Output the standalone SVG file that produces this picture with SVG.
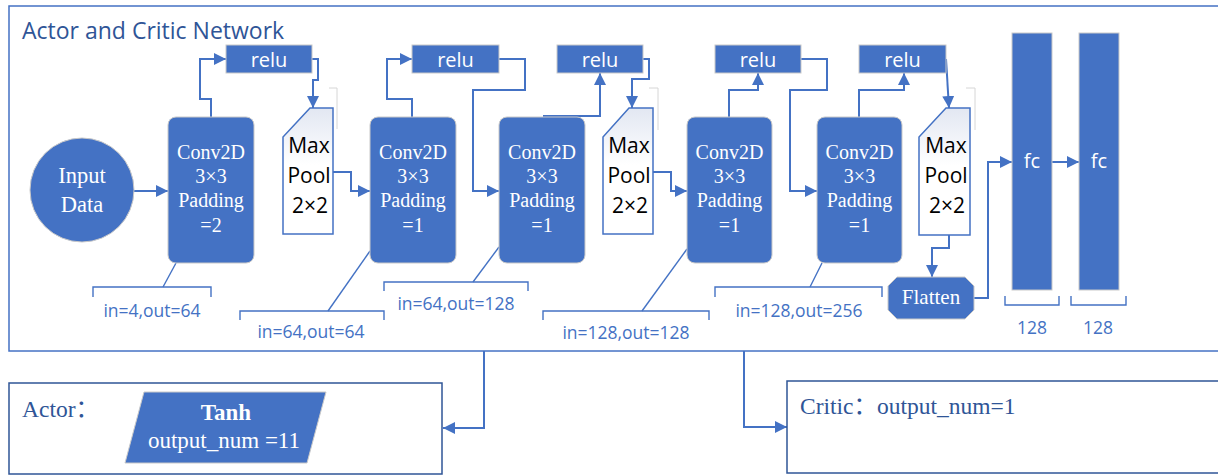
<svg xmlns="http://www.w3.org/2000/svg" width="1218" height="475" viewBox="0 0 1218 475">
<style>
.blk{fill:#4472C4;stroke:#C9C9C9;stroke-width:1}
.con{fill:none;stroke:#4472C4;stroke-width:2}
.thin{fill:none;stroke:#4472C4;stroke-width:1.4}
.ghost{fill:none;stroke:#D6D6D6;stroke-width:1}
.pool{fill:url(#pg);stroke:#4472C4;stroke-width:1.5}
.serifW{font-family:"Liberation Serif","Times New Roman",serif;fill:#FFFFFF;text-anchor:middle}
.sansW{font-family:"Open Sans","Noto Sans",sans-serif;fill:#FFFFFF;text-anchor:middle}
.sansK{font-family:"Open Sans","Noto Sans",sans-serif;fill:#000000;text-anchor:middle;font-size:21px}
.lbl{font-family:"Open Sans","Noto Sans",sans-serif;fill:#4472C4;text-anchor:middle;font-size:17.5px}
.dark{font-family:"Liberation Serif","Noto Sans CJK SC",serif;fill:#2F5597;font-size:23.5px}
</style>
<defs>
<linearGradient id="pg" x1="0" y1="0" x2="0" y2="1">
<stop offset="0" stop-color="#E2E7F2"/>
<stop offset="0.45" stop-color="#FFFFFF"/>
<stop offset="1" stop-color="#FFFFFF"/>
</linearGradient>
<marker id="arr" viewBox="0 0 10 10" refX="10" refY="5" markerWidth="12" markerHeight="12" markerUnits="userSpaceOnUse" orient="auto">
<path d="M0,0 L10,5 L0,10 z" fill="#4472C4"/>
</marker>
</defs>
<rect width="1218" height="475" fill="#FFFFFF"/>

<g id="outer">
<rect x="9" y="6" width="1215" height="345" fill="none" stroke="#4472C4" stroke-width="1.5"/>
<text x="22" y="39" font-family="Open Sans, Noto Sans, sans-serif" font-size="23" fill="#2F5597">Actor and Critic Network</text>
</g>

<g id="connectors">
<line class="con" x1="133" y1="191" x2="168" y2="191" marker-end="url(#arr)"/>
<path class="con" d="M211,117 V99 H200 V59 H226" marker-end="url(#arr)"/>
<path class="con" d="M312,59 H318 V80 H313 V108" marker-end="url(#arr)"/>
<path class="con" d="M333,172 H351 V191 H370" marker-end="url(#arr)"/>
<path class="con" d="M412,117 V99 H387 V59 H412" marker-end="url(#arr)"/>
<path class="con" d="M499,59 H525 V90 H473 V191 H499" marker-end="url(#arr)"/>
<path class="con" d="M543,116 H600 V73" marker-end="url(#arr)"/>
<path class="con" d="M643,59 H649 V79 H632 V108" marker-end="url(#arr)"/>
<path class="con" d="M653,172 H671 V191 H687" marker-end="url(#arr)"/>
<path class="con" d="M729,117 V90 H758 V73" marker-end="url(#arr)"/>
<path class="con" d="M801,59 H827 V90 H790 V191 H817" marker-end="url(#arr)"/>
<path class="con" d="M859,117 V90 H904 V73" marker-end="url(#arr)"/>
<path class="con" d="M946,59 L949,108" marker-end="url(#arr)"/>
<path class="con" d="M949,235 V248 H932 V277" marker-end="url(#arr)"/>
<path class="con" d="M974,298 H988 V162 H1012" marker-end="url(#arr)"/>
<line class="con" x1="1052" y1="162" x2="1079" y2="162" marker-end="url(#arr)"/>
<path class="con" d="M484,351 V428 H443" marker-end="url(#arr)"/>
<path class="con" d="M744,351 V427 H787" marker-end="url(#arr)"/>
<path class="thin" d="M93,297 V287 H211 V297"/>
<line class="thin" x1="176" y1="263" x2="163" y2="287"/>
<path class="thin" d="M240,320 V311 H384 V320"/>
<line class="thin" x1="370" y1="251" x2="328" y2="311"/>
<path class="thin" d="M384,291 V282 H528 V291"/>
<line class="thin" x1="499" y1="247" x2="473" y2="282"/>
<path class="thin" d="M543,320 V311 H709 V320"/>
<line class="thin" x1="687" y1="249" x2="642" y2="311"/>
<path class="thin" d="M715,297 V287 H882 V297"/>
<line class="thin" x1="822" y1="263" x2="810" y2="287"/>
<path class="thin" d="M1005,296 V305 H1059 V296"/>
<path class="thin" d="M1071,296 V305 H1126 V296"/>
<polyline class="ghost" points="329,88 337,88 337,129"/>
<polyline class="ghost" points="649,88 658,88 658,130"/>
<polyline class="ghost" points="966,88 975,88 975,130"/>
</g>

<g id="labels">
<text class="lbl" x="152" y="317">in=4,out=64</text>
<text class="lbl" x="311" y="338">in=64,out=64</text>
<text class="lbl" x="456" y="310">in=64,out=128</text>
<text class="lbl" x="626" y="339">in=128,out=128</text>
<text class="lbl" x="799" y="317">in=128,out=256</text>
<text class="lbl" x="1032" y="334">128</text>
<text class="lbl" x="1098" y="334">128</text>
</g>

<g id="input">
<circle cx="82" cy="190" r="52" fill="#4472C4" stroke="#C9C9C9" stroke-width="1"/>
<text class="serifW" x="82" y="183" font-size="22.5">Input</text>
<text class="serifW" x="82" y="212" font-size="22.5">Data</text>
</g>

<g id="conv1">
<rect class="blk" x="168" y="117" width="86" height="146" rx="8"/>
<text class="serifW" font-size="20" x="211" y="159">Conv2D</text>
<text class="serifW" font-size="20" x="211" y="183">3×3</text>
<text class="serifW" font-size="20" x="211" y="207">Padding</text>
<text class="serifW" font-size="20" x="211" y="232">=2</text>
</g>
<g id="conv2">
<rect class="blk" x="370" y="117" width="86" height="146" rx="8"/>
<text class="serifW" font-size="20" x="413" y="159">Conv2D</text>
<text class="serifW" font-size="20" x="413" y="183">3×3</text>
<text class="serifW" font-size="20" x="413" y="207">Padding</text>
<text class="serifW" font-size="20" x="413" y="232">=1</text>
</g>
<g id="conv3">
<rect class="blk" x="499" y="117" width="86" height="146" rx="8"/>
<text class="serifW" font-size="20" x="542" y="159">Conv2D</text>
<text class="serifW" font-size="20" x="542" y="183">3×3</text>
<text class="serifW" font-size="20" x="542" y="207">Padding</text>
<text class="serifW" font-size="20" x="542" y="232">=1</text>
</g>
<g id="conv4">
<rect class="blk" x="687" y="117" width="85" height="146" rx="8"/>
<text class="serifW" font-size="20" x="729.5" y="159">Conv2D</text>
<text class="serifW" font-size="20" x="729.5" y="183">3×3</text>
<text class="serifW" font-size="20" x="729.5" y="207">Padding</text>
<text class="serifW" font-size="20" x="729.5" y="232">=1</text>
</g>
<g id="conv5">
<rect class="blk" x="817" y="117" width="85" height="146" rx="8"/>
<text class="serifW" font-size="20" x="859.5" y="159">Conv2D</text>
<text class="serifW" font-size="20" x="859.5" y="183">3×3</text>
<text class="serifW" font-size="20" x="859.5" y="207">Padding</text>
<text class="serifW" font-size="20" x="859.5" y="232">=1</text>
</g>

<g id="relu1"><rect class="blk" x="226" y="45" width="86" height="28"/><text class="sansW" font-size="20" x="269" y="67">relu</text></g>
<g id="relu2"><rect class="blk" x="412" y="45" width="87" height="28"/><text class="sansW" font-size="20" x="455.5" y="67">relu</text></g>
<g id="relu3"><rect class="blk" x="557" y="45" width="86" height="28"/><text class="sansW" font-size="20" x="600" y="67">relu</text></g>
<g id="relu4"><rect class="blk" x="715" y="45" width="86" height="28"/><text class="sansW" font-size="20" x="758" y="67">relu</text></g>
<g id="relu5"><rect class="blk" x="859" y="45" width="87" height="28"/><text class="sansW" font-size="20" x="902.5" y="67">relu</text></g>

<g id="maxpool1">
<path class="pool" d="M310,108 H333 V234 H283 V137 Z"/>
<text class="sansK" x="309" y="153">Max</text>
<text class="sansK" x="309" y="183">Pool</text>
<text class="sansK" x="310" y="213">2×2</text>
</g>
<g id="maxpool2">
<path class="pool" d="M629,108 H653 V234 H603 V137 Z"/>
<text class="sansK" x="629" y="153">Max</text>
<text class="sansK" x="629" y="183">Pool</text>
<text class="sansK" x="630" y="213">2×2</text>
</g>
<g id="maxpool3">
<path class="pool" d="M946,108 H970 V235 H919 V137 Z"/>
<text class="sansK" x="946" y="153">Max</text>
<text class="sansK" x="946" y="183">Pool</text>
<text class="sansK" x="947" y="213">2×2</text>
</g>

<g id="flatten">
<polygon class="blk" points="897,277 965,277 974,286 974,310 965,319 897,319 888,310 888,286"/>
<text class="serifW" font-size="21" x="931" y="304">Flatten</text>
</g>

<g id="fc1"><rect class="blk" x="1012" y="33" width="40" height="257"/><text class="sansW" font-size="20" x="1032" y="168">fc</text></g>
<g id="fc2"><rect class="blk" x="1079" y="33" width="40" height="257"/><text class="sansW" font-size="20" x="1099" y="168">fc</text></g>

<g id="actor">
<rect x="9" y="383" width="433" height="91" fill="none" stroke="#2F5597" stroke-width="1.5"/>
<text class="dark" x="22" y="417">Actor：</text>
<polygon points="144,392 326,392 307,463 125,463" fill="#4472C4" stroke="#C9C9C9" stroke-width="1"/>
<text class="serifW" font-size="23" font-weight="bold" x="226" y="420">Tanh</text>
<text class="serifW" font-size="23" x="224" y="448">output_num =11</text>
</g>

<g id="critic">
<rect x="787" y="381" width="440" height="92" fill="none" stroke="#2F5597" stroke-width="1.5"/>
<text class="dark" x="800" y="414">Critic：output_num=1</text>
</g>
</svg>
